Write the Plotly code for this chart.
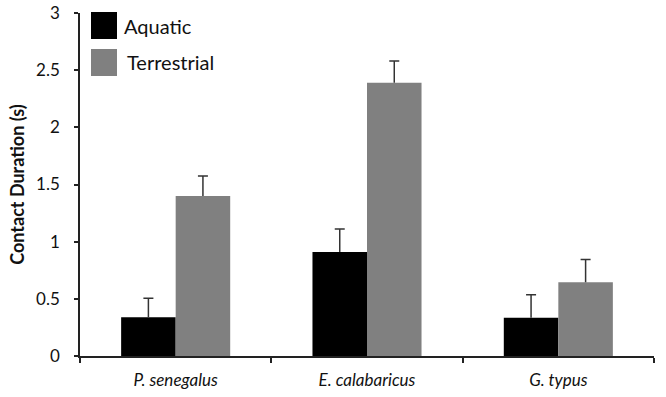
import plotly.graph_objects as go

species = ["<i>P. senegalus</i>", "<i>E. calabaricus</i>", "<i>G. typus</i>"]
aquatic = [0.34, 0.91, 0.335]
aquatic_err = [0.165, 0.20, 0.20]
terrestrial = [1.40, 2.39, 0.645]
terrestrial_err = [0.175, 0.19, 0.20]
series_names = ["Aquatic", "Terrestrial"]
series_colors = ["#000000", "#808080"]
y_ticks = [0, 0.5, 1, 1.5, 2, 2.5, 3]
y_ticklabels = ["0", "0.5", "1", "1.5", "2", "2.5", "3"]

FONT = "Lato"
ERR_COLOR = "#333333"

fig = go.Figure()
for name, vals, errs, col in zip(series_names, [aquatic, terrestrial],
                                 [aquatic_err, terrestrial_err], series_colors):
    # bars with the upper whisker line (no caps)
    fig.add_trace(go.Bar(
        x=species, y=vals, name=name,
        marker=dict(color=col, line=dict(width=0)),
        error_y=dict(type="data", array=errs, arrayminus=[0] * len(errs),
                     symmetric=False, color=ERR_COLOR, thickness=1.5, width=0),
        showlegend=False, xaxis="x", yaxis="y",
    ))
for name, vals, errs in zip(series_names, [aquatic, terrestrial],
                            [aquatic_err, terrestrial_err]):
    # invisible twin bars reaching the whisker tip, carrying only the cap
    fig.add_trace(go.Bar(
        x=species, y=[v + e for v, e in zip(vals, errs)], name=name,
        marker=dict(color="rgba(0,0,0,0)", line=dict(width=0)),
        error_y=dict(type="data", array=[0] * len(errs), arrayminus=[0] * len(errs),
                     symmetric=False, color=ERR_COLOR, thickness=1.5, width=5),
        showlegend=False, xaxis="x2", yaxis="y", hoverinfo="skip",
    ))

# Legend drawn with large swatches like the original
legend_rows = [(0.0, series_names[0], series_colors[0], 122),
               (1.0, series_names[1], series_colors[1], 125)]
for i, name, col, tx in legend_rows:
    y0 = 12 + i * 37
    fig.add_shape(type="rect", xref="paper", yref="paper",
                  x0=(91 - 80) / 574, x1=(117 - 80) / 574,
                  y0=(356 - (y0 + 27)) / 343, y1=(356 - y0) / 343,
                  fillcolor=col, line=dict(width=0))
    fig.add_annotation(xref="paper", yref="paper", x=(tx - 80) / 574,
                       y=(356 - (y0 + 13.5)) / 343, text=name, showarrow=False,
                       xanchor="left", yanchor="middle",
                       font=dict(family=FONT, size=20, color="#111111"))

fig.update_layout(
    width=666, height=397,
    margin=dict(l=80, r=12, t=13, b=41, autoexpand=False),
    paper_bgcolor="white", plot_bgcolor="white",
    barmode="group", bargap=0.43, bargroupgap=0,
    font=dict(family=FONT, color="#111111"),
    xaxis2=dict(overlaying="x", matches="x", visible=False,
                categoryorder="array", categoryarray=species),
    xaxis=dict(
        categoryorder="array", categoryarray=species, automargin=False,
        showline=True, linecolor="#222222", linewidth=1.5,
        ticks="outside", tickson="boundaries", ticklen=5, tickcolor="#222222",
        tickwidth=1.5, tickfont=dict(family=FONT, size=17, color="#111111"),
        ticklabelstandoff=8, showgrid=False,
    ),
    yaxis=dict(
        range=[0, 3], tickvals=y_ticks, ticktext=y_ticklabels, automargin=False,
        showline=True, linecolor="#222222", linewidth=1.5,
        ticks="outside", ticklen=4, tickcolor="#222222", tickwidth=1.5,
        tickfont=dict(family=FONT, size=17, color="#111111"),
        ticklabelstandoff=11, showgrid=False, zeroline=False,
        title=dict(text="<b>Contact Duration (s)</b>",
                   font=dict(family=FONT, size=18, color="#111111"), standoff=7),
    ),
)

fig.write_html("out.html")
